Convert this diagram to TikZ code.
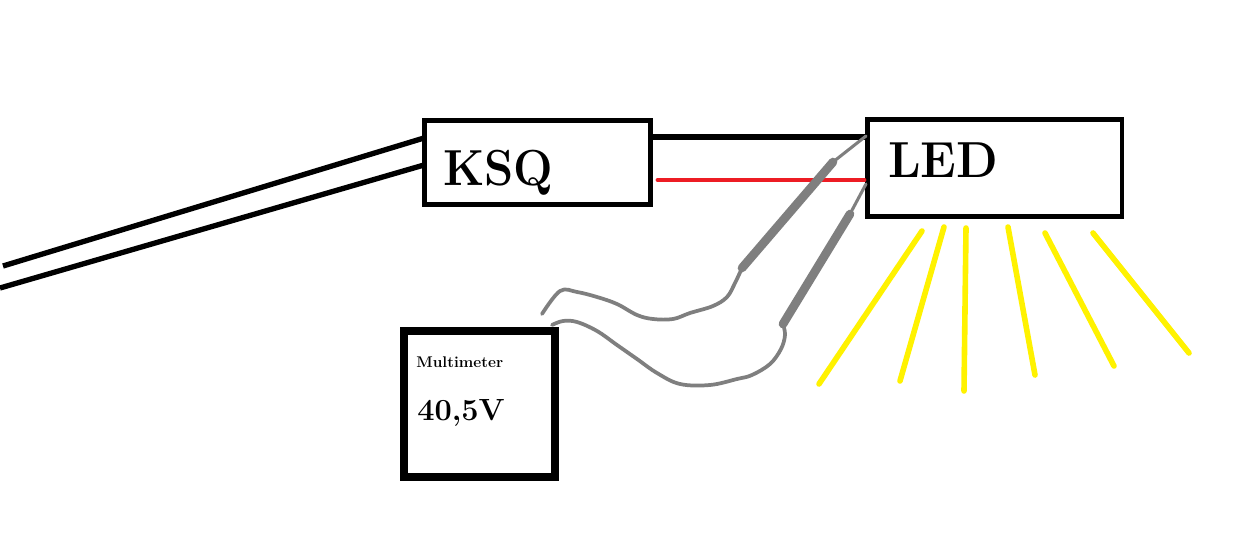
\documentclass[tikz,border=0pt]{standalone}
\begin{document}
\begin{tikzpicture}[x=0.75pt,y=-0.75pt,
  box/.style={draw=black,fill=white,line width=3.5pt,inner sep=0pt,outer sep=0pt},
  lab/.style={anchor=base west,inner sep=0pt,font=\bfseries},
  wire/.style={draw=black,line width=4pt},
  redwire/.style={draw=wirered,line width=3.7pt,line cap=round},
  thinprobe/.style={draw=probegray,line width=2.3pt,line join=round,line cap=round},
  cable/.style={draw=probegray,line width=2.8pt,line join=round,line cap=round},
  tip/.style={draw=probegray,line width=6.5pt,line cap=round},
  ray/.style={draw=rayyellow,line width=4.2pt,line cap=round}]
\definecolor{wirered}{HTML}{ED1C24}
\definecolor{probegray}{HTML}{7F7F7F}
\definecolor{rayyellow}{HTML}{FFF200}
\useasboundingbox (0,0) rectangle (1247,554);
\fill[white] (0,0) rectangle (1247,554);
% boxes
\path (537.5,162.5) node[box,minimum width=169.5pt,minimum height=63pt] (ksq) {};
\path (994.8,168.2) node[box,minimum width=190.8pt,minimum height=72.6pt] (led) {};
\path (479.5,403.8) node[box,line width=5.8pt,minimum width=113.5pt,minimum height=109.4pt] (meter) {};
% labels
\node[lab,font=\fontsize{38}{40}\selectfont\bfseries] (ksqtext) at (443,185) {\scalebox{0.925}[1]{KSQ}};
\node[lab,font=\fontsize{38}{40}\selectfont\bfseries] (ledtext) at (888,177) {\scalebox{0.955}[1]{LED}};
\node[lab,font=\fontsize{11.6}{13}\selectfont\bfseries] (mmtext) at (416,367) {Multimeter};
\node[lab,font=\fontsize{23}{26}\selectfont\bfseries] (valtext) at (417,420) {40,5V};
% mains leads
\coordinate (in1) at (3,266);
\coordinate (in2) at (0,288);
\coordinate (k1) at (424,138);
\coordinate (k2) at (424,165);
\draw[wire] (in1) -- (k1);
\draw[wire] (in2) -- (k2);
% ksq to led
\coordinate (ko) at (651,137);
\coordinate (lo) at (866,137);
\coordinate (kr) at (658,180);
\coordinate (lr) at (864,180);
\draw[wire] (ko) -- (lo);
\draw[redwire] (kr) -- (lr);
% upper probe
\coordinate (a0) at (542,314);
\coordinate (a1) at (742,268);
\coordinate (a2) at (833,162);
\coordinate (a3) at (866,136);
\draw[cable] plot[smooth,tension=0.6] coordinates {(a0) (560,291) (577,292) (597,297) (617,304) (637,315) (653,319) (673,319) (690,313) (713,306) (727,297) (735,283) (a1)};
\draw[tip] (a1) -- (a2);
\draw[thinprobe] (a2) -- (a3);
% lower probe
\coordinate (b0) at (552,325);
\coordinate (b1) at (783,324);
\coordinate (b2) at (850,214);
\coordinate (b3) at (866,184);
\draw[cable] plot[smooth,tension=0.6] coordinates {(b0) (563,321) (577,322) (597,331) (617,345) (637,359) (657,373) (680,384) (710,385) (737,379) (752,375) (770,364) (781,349) (785,335) (b1)};
\draw[tip] (b1) -- (b2);
\draw[thinprobe] (b2) -- (b3);
% light rays
\coordinate (r1a) at (922,231); \coordinate (r1b) at (819,384);
\coordinate (r2a) at (944,227); \coordinate (r2b) at (900,381);
\coordinate (r3a) at (966,228); \coordinate (r3b) at (964,391);
\coordinate (r4a) at (1008,227); \coordinate (r4b) at (1035,375);
\coordinate (r5a) at (1045,233); \coordinate (r5b) at (1114,366);
\coordinate (r6a) at (1093,233); \coordinate (r6b) at (1189,353);
\draw[ray] (r1a) -- (r1b);
\draw[ray] (r2a) -- (r2b);
\draw[ray] (r3a) -- (r3b);
\draw[ray] (r4a) -- (r4b);
\draw[ray] (r5a) -- (r5b);
\draw[ray] (r6a) -- (r6b);
\end{tikzpicture}
\end{document}
